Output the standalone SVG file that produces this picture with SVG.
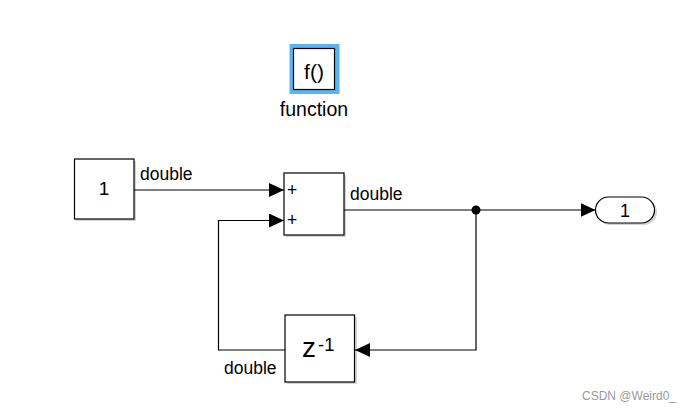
<svg xmlns="http://www.w3.org/2000/svg" width="692" height="411" viewBox="0 0 692 411">
<defs>
<style>
.blk{fill:#fff;stroke:#000;stroke-width:1.2}
.sh{fill:#d4d4d4}
.ln{fill:none;stroke:#000;stroke-width:1.2}
.t{font-family:"Liberation Sans",Arial,sans-serif;fill:#000}
</style>
<marker id="ah" markerUnits="userSpaceOnUse" markerWidth="16" markerHeight="14" refX="15" refY="7" orient="auto">
<path d="M0,0 L15,7 L0,14 z" fill="#000"/>
</marker>
</defs>
<rect width="692" height="411" fill="#fff"/>

<g id="function">
<rect x="289.5" y="44" width="50" height="50" fill="#5ab3f2"/>
<rect class="blk" x="293.5" y="48.5" width="41" height="41"/>
<text class="t" x="314" y="79" font-size="21" text-anchor="middle">f()</text>
<text class="t" x="314" y="116" font-size="19.5" text-anchor="middle">function</text>
</g>

<g id="constant">
<rect class="sh" x="76" y="161" width="60" height="60"/>
<rect class="blk" x="74.5" y="159" width="59.5" height="60"/>
<text class="t" x="104" y="195" font-size="19" text-anchor="middle">1</text>
</g>

<g id="sum">
<rect class="sh" x="286" y="175" width="60" height="62"/>
<rect class="blk" x="284" y="173" width="60" height="62"/>
<text class="t" x="287" y="196" font-size="17.5">+</text>
<text class="t" x="287" y="226" font-size="17.5">+</text>
</g>

<g id="delay">
<rect class="sh" x="287" y="317" width="70" height="67"/>
<rect class="blk" x="285" y="315" width="69.5" height="67"/>
<text class="t" x="302" y="357" font-size="28">z</text>
<text class="t" x="318" y="351" font-size="18.5">-1</text>
</g>

<g id="outport">
<rect class="sh" x="597" y="199" width="60" height="26" rx="13"/>
<rect class="blk" x="595.5" y="197" width="59" height="26" rx="13"/>
<text class="t" x="625" y="217" font-size="18" text-anchor="middle">1</text>
</g>

<g id="connectors">
<path class="ln" d="M134,190 H284" marker-end="url(#ah)"/>
<path class="ln" d="M344,210 H595.5" marker-end="url(#ah)"/>
<path class="ln" d="M476,210 V350 H355" marker-end="url(#ah)"/>
<path class="ln" d="M285,350 H218.5 V220.5 H284" marker-end="url(#ah)"/>
<circle cx="476" cy="210" r="4.5" fill="#000"/>
<text class="t" x="140" y="180" font-size="17.5">double</text>
<text class="t" x="350" y="200" font-size="17.5">double</text>
<text class="t" x="224" y="374" font-size="17.5">double</text>
</g>

<text x="676" y="400" font-family="Liberation Sans,Arial,sans-serif" font-size="12" fill="#9a9a9a" text-anchor="end">CSDN @Weird0_</text>
</svg>
